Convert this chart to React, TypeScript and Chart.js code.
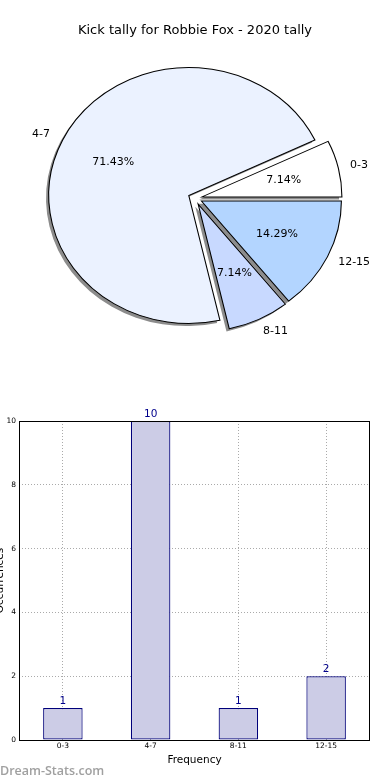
import React, { useEffect, useRef } from "react";
import { Chart, registerables } from "chart.js";
Chart.register(...registerables);

const TITLE = "Kick tally for Robbie Fox - 2020 tally";
const categories = ["0-3", "4-7", "8-11", "12-15"];
const counts = [1, 10, 1, 2];
const pieColors = ["#ffffff", "#ebf2ff", "#c8d9ff", "#b3d5ff"];
const yTickStep = 2;
const yMax = 10;
const X_TITLE = "Frequency";
const Y_TITLE = "Occurrences";
const WATERMARK = "Dream-Stats.com";

// matplotlib-like pie geometry
const SX = 140 / 128; // horizontal stretch (non-equal aspect)
const EXPLODE = 0.05;
const LABEL_DIST = 1.1;
const PCT_DIST = 0.6;
const FONT = '"DejaVu Sans", sans-serif';

// clockwise drawing order starting east == matplotlib CCW order
const pieLabels = [...categories].reverse();
const pieData = [...counts].reverse();
const pieBg = [...pieColors].reverse();

const piePlugin = {
  id: "piePlugin",
  beforeDatasetDraw(chart: any, args: any) {
    const ctx = chart.ctx;
    const arcs = args.meta.data as any[];
    if (!arcs.length) return false;
    const cx = arcs[0].x;
    const cy = arcs[0].y;
    ctx.save();
    ctx.translate(cx, cy);
    ctx.scale(SX, 1);
    ctx.translate(-cx, -cy);
    // shadows
    ctx.save();
    ctx.translate(-2.8 / SX, 2.6);
    ctx.fillStyle = "#8c8c8c";
    arcs.forEach((a) => {
      const m = (a.startAngle + a.endAngle) / 2;
      const e = EXPLODE * a.outerRadius;
      const px = a.x + Math.cos(m) * e;
      const py = a.y + Math.sin(m) * e;
      ctx.beginPath();
      ctx.moveTo(px, py);
      ctx.arc(px, py, a.outerRadius, a.startAngle, a.endAngle);
      ctx.closePath();
      ctx.fill();
    });
    ctx.restore();
    arcs.forEach((a) => {
      const m = (a.startAngle + a.endAngle) / 2;
      const e = EXPLODE * a.outerRadius;
      ctx.save();
      ctx.translate(Math.cos(m) * e, Math.sin(m) * e);
      a.draw(ctx);
      ctx.restore();
    });
    ctx.restore();
    return false;
  },
  afterDraw(chart: any) {
    const ctx = chart.ctx;
    const arcs = chart.getDatasetMeta(0).data as any[];
    const total = pieData.reduce((s, v) => s + v, 0);
    ctx.save();
    ctx.fillStyle = "#000";
    ctx.font = `13px ${FONT}`;
    ctx.textAlign = "center";
    ctx.textBaseline = "alphabetic";
    ctx.fillText(TITLE, chart.width / 2, 34);
    ctx.font = `11px ${FONT}`;
    ctx.textBaseline = "middle";
    arcs.forEach((a, i) => {
      const m = (a.startAngle + a.endAngle) / 2;
      const r = a.outerRadius;
      const e = EXPLODE * r;
      const c = Math.cos(m);
      const s = Math.sin(m);
      const lx = a.x + c * (e + LABEL_DIST * r) * SX;
      const ly = a.y + s * (e + LABEL_DIST * r);
      ctx.textAlign = c > 0 ? "left" : "right";
      ctx.fillText(pieLabels[i], lx - (c > 0 ? 2 : 0), ly);
      const px = a.x + c * (e + PCT_DIST * r) * SX;
      const py = a.y + s * (e + PCT_DIST * r);
      ctx.textAlign = "center";
      ctx.fillText(((pieData[i] / total) * 100).toFixed(2) + "%", px, py);
    });
    ctx.restore();
  },
};

const barPlugin = {
  id: "barPlugin",
  afterDatasetsDraw(chart: any) {
    const ctx = chart.ctx;
    const bars = chart.getDatasetMeta(0).data as any[];
    ctx.save();
    ctx.fillStyle = "#00008b";
    ctx.font = `10.5px ${FONT}`;
    ctx.textAlign = "center";
    ctx.textBaseline = "alphabetic";
    bars.forEach((b, i) => {
      ctx.fillText(String(counts[i]), b.x, b.y - 4.5);
    });
    ctx.restore();
  },
  afterDraw(chart: any) {
    const ctx = chart.ctx;
    const { left, top, right, bottom } = chart.chartArea;
    ctx.save();
    ctx.strokeStyle = "#000";
    ctx.lineWidth = 1;
    ctx.strokeRect(left + 0.5, top + 0.5, right - left - 1, bottom - top);
    ctx.fillStyle = "#000";
    ctx.font = `10.5px ${FONT}`;
    ctx.textAlign = "center";
    ctx.textBaseline = "alphabetic";
    ctx.fillText(X_TITLE, (left + right) / 2, bottom + 23);
    ctx.save();
    ctx.translate(2.5, (top + bottom) / 2);
    ctx.rotate(-Math.PI / 2);
    ctx.fillText(Y_TITLE, 0, 0);
    ctx.restore();
    ctx.fillStyle = "#a0a0a0";
    ctx.font = `600 12.5px "Open Sans", sans-serif`;
    ctx.textAlign = "left";
    ctx.fillText(WATERMARK, 0, 395);
    ctx.restore();
  },
};

export default function App() {
  const pieRef = useRef<HTMLCanvasElement>(null);
  const barRef = useRef<HTMLCanvasElement>(null);

  useEffect(() => {
    const pie = new Chart(pieRef.current as HTMLCanvasElement, {
      type: "pie",
      data: {
        labels: pieLabels,
        datasets: [
          {
            data: pieData,
            backgroundColor: pieBg,
            borderColor: "#000",
            borderWidth: 1,
            borderJoinStyle: "miter",
            hoverOffset: 0,
            offset: 0,
            radius: 128,
          } as any,
        ],
      },
      options: {
        animation: false,
        responsive: false,
        events: [],
        rotation: 90,
        layout: { padding: { left: 10.2, right: 10, top: 26.6, bottom: 10 } },
        plugins: {
          legend: { display: false },
          tooltip: { enabled: false },
          title: { display: false },
        },
      } as any,
      plugins: [piePlugin],
    });

    const gridCommon = {
      color: "#aaaaaa",
      lineWidth: 1,
      drawTicks: false,
      tickLength: 0,
    };
    const tickFont = { family: "DejaVu Sans", size: 7.5 };

    const bar = new Chart(barRef.current as HTMLCanvasElement, {
      type: "bar",
      data: {
        labels: categories,
        datasets: [
          {
            data: counts,
            backgroundColor: "#ccccE6",
            borderColor: "#00007a",
            borderWidth: 1.2,
            borderSkipped: false,
            barPercentage: 0.45,
            categoryPercentage: 1,
          } as any,
        ],
      },
      options: {
        animation: false,
        responsive: false,
        events: [],
        layout: { padding: { left: 0, right: 20, top: 41, bottom: 0 } },
        plugins: {
          legend: { display: false },
          tooltip: { enabled: false },
        },
        scales: {
          x: {
            offset: true,
            z: 1,
            grid: { ...gridCommon, offset: false },
            border: { display: false, dash: [1, 2] },
            ticks: { font: tickFont, color: "#000", padding: 2, maxRotation: 0 },
            afterFit: (s: any) => {
              s.height = 40;
            },
          },
          y: {
            min: 0,
            max: yMax,
            z: 1,
            grid: gridCommon,
            border: { display: false, dash: [1, 2] },
            ticks: { stepSize: yTickStep, font: tickFont, color: "#000", padding: 3 },
            afterFit: (s: any) => {
              s.width = 19;
            },
          },
        },
      } as any,
      plugins: [barPlugin],
    });

    return () => {
      pie.destroy();
      bar.destroy();
    };
  }, []);

  return (
    <div style={{ position: "absolute", left: 0, top: 0, width: 390, height: 780, background: "#fff" }}>
      <canvas ref={pieRef} width={390} height={380} style={{ display: "block", width: 390, height: 380 }} />
      <canvas ref={barRef} width={390} height={400} style={{ display: "block", width: 390, height: 400 }} />
    </div>
  );
}
